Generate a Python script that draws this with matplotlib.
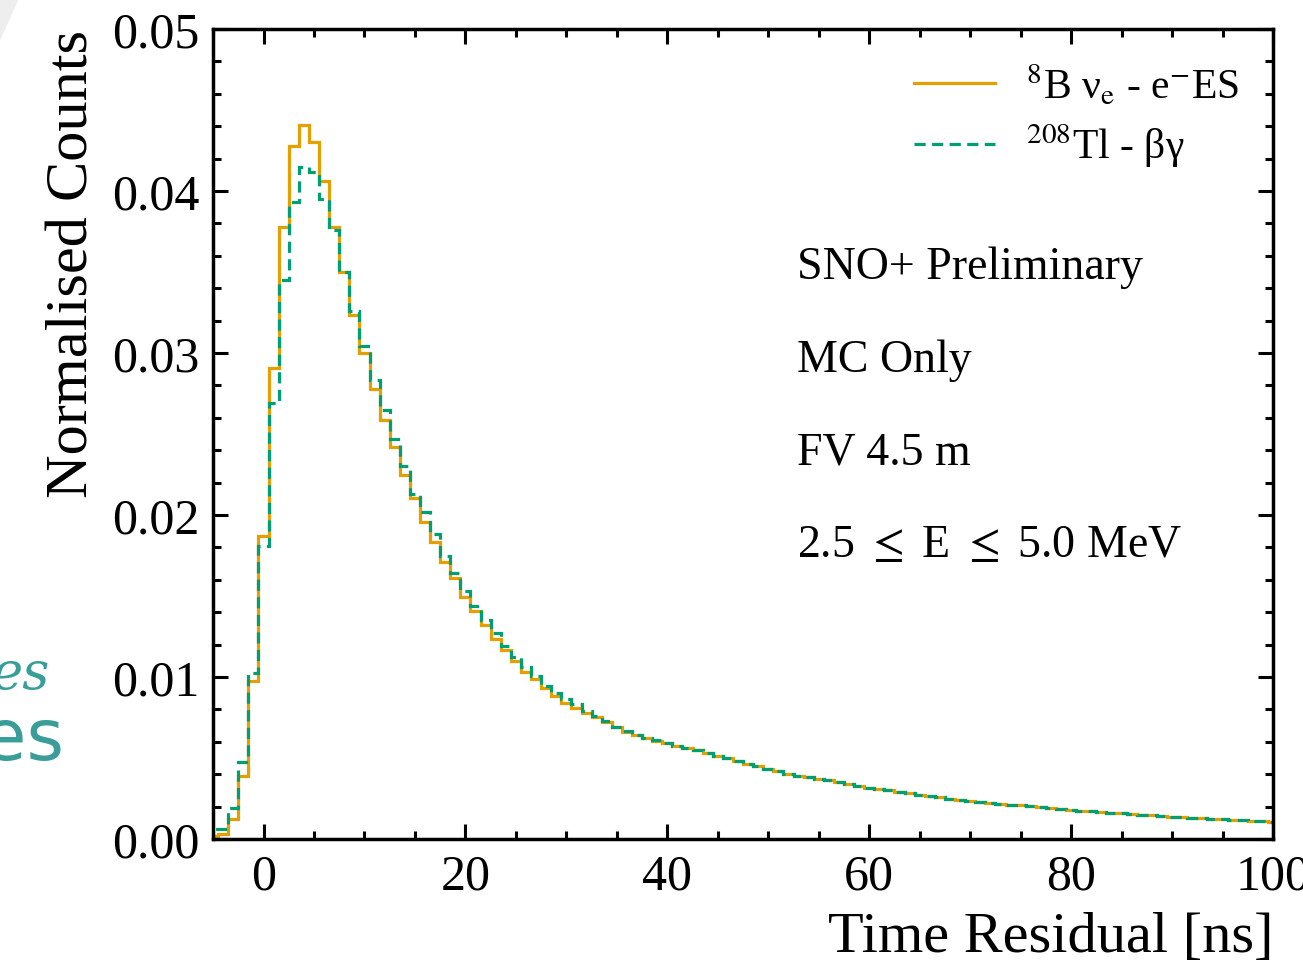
import numpy as np
import matplotlib
matplotlib.use("Agg")
import matplotlib.pyplot as plt
from matplotlib.patches import Polygon

plt.rcParams['font.family'] = ['Liberation Serif', 'DejaVu Serif']
plt.rcParams['mathtext.fontset'] = 'stix'

# bin centres -5 ... 100 ns, 1 ns wide
edges = np.arange(-5.5, 101.5, 1.0)

b8_es = [
    0.0002, 0.0003, 0.00123, 0.0039, 0.00977,
    0.01872, 0.0291, 0.0378, 0.0428, 0.0441, 0.0430, 0.0406, 0.0378, 0.0350, 0.03235,
    0.0300, 0.02778, 0.02588, 0.02418, 0.02247, 0.02103, 0.01959, 0.01835, 0.01712, 0.01609,
    0.01492, 0.01409, 0.01321, 0.01235, 0.01167, 0.0110, 0.01034, 0.00988, 0.00932, 0.00885,
    0.0084, 0.00807, 0.00778, 0.00753, 0.00722, 0.00690, 0.00662, 0.00640, 0.00622, 0.00608,
    0.00590, 0.00575, 0.00562, 0.00548, 0.00530, 0.00515, 0.00500, 0.00483, 0.00465, 0.00448,
    0.00432, 0.00418, 0.00403, 0.00392, 0.00382, 0.00372, 0.00364, 0.00352, 0.00340, 0.00328,
    0.00317, 0.00308, 0.00300, 0.00292, 0.00284, 0.00274, 0.00264, 0.00257, 0.00250, 0.00243,
    0.00237, 0.00231, 0.00224, 0.00218, 0.00212, 0.00207, 0.00201, 0.00196, 0.00190, 0.00185,
    0.00181, 0.00176, 0.00171, 0.00166, 0.00162, 0.00158, 0.00154, 0.00150, 0.00147, 0.00143,
    0.00139, 0.00135, 0.00131, 0.00128, 0.00125, 0.00122, 0.00119, 0.00115, 0.00112, 0.00109,
    0.00106,
]

tl208 = [
    0.0006, 0.0006, 0.0019, 0.00477, 0.01025,
    0.01807, 0.0269, 0.0345, 0.0393, 0.0415, 0.0412, 0.0395, 0.0376, 0.0350, 0.0326,
    0.03045, 0.02835, 0.02648, 0.02469, 0.02304, 0.0213, 0.02016, 0.01883, 0.01749, 0.0164,
    0.01533, 0.0144, 0.01352, 0.0127, 0.01193, 0.01121, 0.01059, 0.01008, 0.00946, 0.009,
    0.00864, 0.00833, 0.00792, 0.00760, 0.00727, 0.00694, 0.00666, 0.00642, 0.00625, 0.00610,
    0.00592, 0.00577, 0.00563, 0.00549, 0.00531, 0.00515, 0.00500, 0.00483, 0.00465, 0.00448,
    0.00432, 0.00418, 0.00403, 0.00392, 0.00382, 0.00372, 0.00364, 0.00352, 0.00340, 0.00328,
    0.00317, 0.00308, 0.00300, 0.00292, 0.00284, 0.00274, 0.00264, 0.00257, 0.00250, 0.00243,
    0.00237, 0.00231, 0.00224, 0.00218, 0.00212, 0.00207, 0.00201, 0.00196, 0.00190, 0.00185,
    0.00181, 0.00176, 0.00171, 0.00166, 0.00162, 0.00158, 0.00154, 0.00150, 0.00147, 0.00143,
    0.00139, 0.00135, 0.00131, 0.00128, 0.00125, 0.00122, 0.00119, 0.00115, 0.00112, 0.00109,
    0.00106,
]

labels = [r"$^{8}$B ν$_{\mathrm{e}}$ - e$^{-}$ES", r"$^{208}$Tl - βγ"]
notes = ["SNO+ Preliminary", "MC Only", "FV 4.5 m", "2.5 $\\leq$ E $\\leq$ 5.0 MeV"]

fig = plt.figure(figsize=(13.03, 9.70), dpi=100)
ax = fig.add_axes([0.1635, 0.134, 0.8135, 0.835])

ax.stairs(b8_es, edges, color='#E69F00', lw=2.3, label=labels[0])
ax.stairs(tl208, edges, color='#009E73', lw=2.3, ls=(0, (3.5, 2)), label=labels[1])

ax.set_xlim(-5, 100)
ax.set_ylim(0, 0.05)
ax.set_xticks([0, 20, 40, 60, 80, 100])
ax.set_xticks(np.arange(-5, 101, 5), minor=True)
ax.set_yticks([0, 0.01, 0.02, 0.03, 0.04, 0.05])
ax.set_yticks(np.arange(0, 0.0501, 0.002), minor=True)
ax.set_yticklabels(["0.00", "0.01", "0.02", "0.03", "0.04", "0.05"])
ax.tick_params(which='both', direction='in', top=True, right=True, width=2.2,
               labelsize=36, pad=10)
ax.tick_params(which='major', length=11)
ax.tick_params(which='minor', length=5.5)
for s in ax.spines.values():
    s.set_linewidth(2.5)

ax.set_xlabel("Time Residual [ns]", fontsize=42, loc='right', labelpad=8)
ax.set_ylabel("Normalised Counts", fontsize=43.5, loc='top', labelpad=8)

ys = [0.706, 0.592, 0.477, 0.363]
for t, y in zip(notes, ys):
    ax.text(0.551, y, t, transform=ax.transAxes, fontsize=33, va='center', ha='left')

ax.legend(loc='upper right', bbox_to_anchor=(1.0, 1.0), frameon=False, fontsize=30,
          handlelength=1.95, handletextpad=0.75, labelspacing=0.35, borderaxespad=0.4)

# pieces of the slide behind the chart
fig.text(-0.006, 0.305, "es", color='#3a9e98', fontsize=38, style='italic',
         family='DejaVu Serif', ha='left', va='center')
fig.text(-0.014, 0.237, "es", color='#3a9e98', fontsize=52, family='DejaVu Sans',
         ha='left', va='center')
fig.patches.append(Polygon([[0, 1], [18 / 1303, 1], [0, 1 - 40 / 970]], closed=True,
                           transform=fig.transFigure, color='#eeeeee', zorder=-1))

fig.savefig("out.png", dpi=100)
